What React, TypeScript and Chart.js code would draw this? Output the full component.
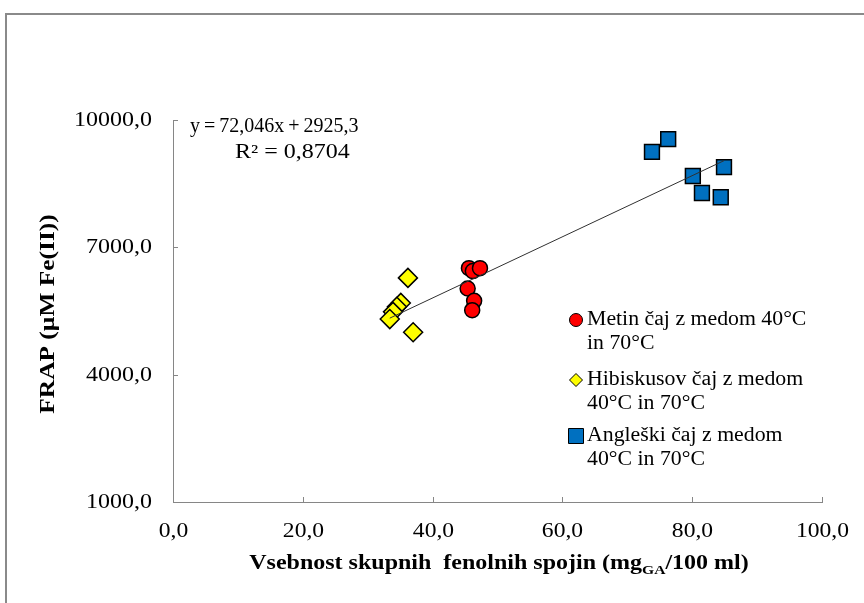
import React, { useEffect, useRef } from "react";
import { Chart, registerables } from "chart.js";

Chart.register(...registerables);

const metinX = [45.6, 46.2, 47.3, 45.4, 46.4, 46.1];
const metinY = [6510, 6440, 6510, 6030, 5740, 5520];
const hibisX = [36.2, 35.1, 34.5, 33.9, 33.4, 37.0];
const hibisY = [6280, 5690, 5600, 5480, 5310, 5000];
const angX = [73.8, 76.3, 80.1, 84.9, 81.5, 84.4];
const angY = [9250, 9550, 8680, 8890, 8280, 8180];

const slope = 72.046;
const intercept = 2925.3;
const equationText = "y = 72,046x + 2925,3";
const r2Text = "R² = 0,8704";

const xTicks = [0, 20, 40, 60, 80, 100];
const yTicks = [1000, 4000, 7000, 10000];

const legendLabels = [
  ["Metin čaj z medom 40°C", "in 70°C"],
  ["Hibiskusov čaj z medom", "40°C in 70°C"],
  ["Angleški čaj z medom", "40°C in 70°C"],
];

const xTitleMain = "Vsebnost skupnih  fenolnih spojin (mg";
const xTitleSub = "GA";
const xTitleEnd = "/100 ml)";
const yTitle = "FRAP (µM Fe(II))";

const fmt = (v: number) => v.toFixed(1).replace(".", ",");

const serif = "'Liberation Serif', 'Times New Roman', serif";

function drawText(ctx: any, text: string, x: number, y: number, font: string, sx: number, align: string, wordSpacing = "0px") {
  ctx.save();
  ctx.font = font;
  if ("wordSpacing" in ctx) ctx.wordSpacing = wordSpacing;
  ctx.textBaseline = "middle";
  ctx.textAlign = "left";
  const w = ctx.measureText(text).width * sx;
  let left = x;
  if (align === "center") left = x - w / 2;
  else if (align === "right") left = x - w;
  ctx.translate(left, y);
  ctx.scale(sx, 1);
  ctx.fillText(text, 0, 0);
  ctx.restore();
  return w;
}

function drawMarker(ctx: any, style: string, x: number, y: number, r: number, color: string) {
  ctx.beginPath();
  if (style === "circle") {
    ctx.arc(x, y, r, 0, Math.PI * 2);
  } else if (style === "rectRot") {
    ctx.moveTo(x - r, y);
    ctx.lineTo(x, y + r);
    ctx.lineTo(x + r, y);
    ctx.lineTo(x, y - r);
    ctx.closePath();
  } else {
    ctx.rect(x - r, y - r, 2 * r, 2 * r);
  }
  ctx.fillStyle = color;
  ctx.fill();
  ctx.strokeStyle = "#000";
  ctx.lineWidth = 1;
  ctx.stroke();
}

export default function App() {
  const ref = useRef<HTMLCanvasElement>(null);

  useEffect(() => {
    const canvas = ref.current!;
    const toPts = (xs: number[], ys: number[]) => xs.map((x, i) => ({ x, y: ys[i] }));
    const allX = [...metinX, ...hibisX, ...angX];
    const minX = Math.min(...allX);
    const maxX = Math.max(...allX);

    const overlay = {
      id: "overlay",
      afterDraw(chart: any) {
        const ctx = chart.ctx;
        const xs = chart.scales.x;
        const ys = chart.scales.y;
        const area = chart.chartArea;
        ctx.save();
        ctx.strokeStyle = "#868686";
        ctx.lineWidth = 1;
        ctx.fillStyle = "#000";
        const tickFont = `20px ${serif}`;
        xTicks.forEach((t) => {
          const px = Math.round(xs.getPixelForValue(t)) + 0.5;
          ctx.beginPath();
          ctx.moveTo(px, area.bottom);
          ctx.lineTo(px, area.bottom - 5);
          ctx.stroke();
          drawText(ctx, fmt(t), px, area.bottom + 30, tickFont, 1.18, "center");
        });
        yTicks.forEach((t) => {
          const py = Math.round(ys.getPixelForValue(t)) + 0.5;
          ctx.beginPath();
          ctx.moveTo(area.left, py);
          ctx.lineTo(area.left + 5, py);
          ctx.stroke();
          drawText(ctx, fmt(t), area.left - 21, py, tickFont, 1.2, "right");
        });

        // equation
        drawText(ctx, equationText, 190, 127, `20px ${serif}`, 1.0, "left", "-1px");
        drawText(ctx, r2Text, 235, 153, `20px ${serif}`, 1.2, "left");

        // legend
        const items = [
          { style: "circle", color: "#FF0000", r: 6.5 },
          { style: "rectRot", color: "#FFFF00", r: 6.5 },
          { style: "rect", color: "#0070C0", r: 7.5 },
        ];
        const rows = [320, 380, 436];
        items.forEach((it, i) => {
          drawMarker(ctx, it.style, 576, rows[i], it.r, it.color);
          ctx.fillStyle = "#000";
          drawText(ctx, legendLabels[i][0], 587, rows[i], `20px ${serif}`, 1.09, "left");
          drawText(ctx, legendLabels[i][1], 587, rows[i] + 24, `20px ${serif}`, 1.09, "left");
        });

        // x axis title with subscript
        const bf = `bold 20px ${serif}`;
        const sf = `bold 13px ${serif}`;
        const sx = 1.2;
        ctx.font = bf;
        const w1 = ctx.measureText(xTitleMain).width * sx;
        const w3 = ctx.measureText(xTitleEnd).width * sx;
        ctx.font = sf;
        const w2 = ctx.measureText(xTitleSub).width * sx;
        let left = 499 - (w1 + w2 + w3) / 2;
        const ty = 564;
        drawText(ctx, xTitleMain, left, ty, bf, sx, "left");
        left += w1;
        drawText(ctx, xTitleSub, left, ty + 7, sf, sx, "left");
        left += w2;
        drawText(ctx, xTitleEnd, left, ty, bf, sx, "left");

        // y axis title
        ctx.save();
        ctx.translate(49, 314);
        ctx.rotate(-Math.PI / 2);
        drawText(ctx, yTitle, 0, 0, bf, 1.27, "center");
        ctx.restore();

        ctx.restore();
      },
    };

    const chart = new Chart(canvas, {
      type: "scatter",
      data: {
        datasets: [
          {
            type: "line",
            label: "trend",
            data: [
              { x: minX, y: slope * minX + intercept },
              { x: maxX, y: slope * maxX + intercept },
            ],
            borderColor: "#303030",
            borderWidth: 1,
            pointRadius: 0,
            fill: false,
            order: 0,
          } as any,
          {
            label: legendLabels[1].join(" "),
            data: toPts(hibisX, hibisY),
            pointStyle: "rectRot",
            pointRadius: 9.5,
            backgroundColor: "#FFFF00",
            borderColor: "#000",
            borderWidth: 1.5,
            order: 2,
          },
          {
            label: legendLabels[0].join(" "),
            data: toPts(metinX, metinY),
            pointStyle: "circle",
            pointRadius: 7.5,
            backgroundColor: "#FF0000",
            borderColor: "#000",
            borderWidth: 1.5,
            order: 2,
          },
          {
            label: legendLabels[2].join(" "),
            data: toPts(angX, angY),
            pointStyle: "rect",
            pointRadius: 10.5,
            backgroundColor: "#0070C0",
            borderColor: "#000",
            borderWidth: 1.5,
            order: 2,
          },
        ],
      },
      options: {
        animation: false,
        responsive: false,
        devicePixelRatio: 1,
        layout: { padding: { left: 0, right: 42, top: 120, bottom: 0 } },
        plugins: {
          legend: { display: false },
          tooltip: { enabled: false },
        },
        scales: {
          x: {
            type: "linear",
            min: 0,
            max: 100,
            afterBuildTicks: (s: any) => {
              s.ticks = xTicks.map((v) => ({ value: v }));
            },
            afterFit: (s: any) => {
              s.height = 101;
            },
            grid: { display: false, drawTicks: false },
            border: { display: true, color: "#868686", width: 1 },
            ticks: { display: false },
          },
          y: {
            type: "linear",
            min: 1000,
            max: 10000,
            afterBuildTicks: (s: any) => {
              s.ticks = yTicks.map((v) => ({ value: v }));
            },
            afterFit: (s: any) => {
              s.width = 173;
            },
            grid: { display: false, drawTicks: false },
            border: { display: true, color: "#868686", width: 1 },
            ticks: { display: false },
          },
        },
      },
      plugins: [overlay],
    } as any);
    return () => chart.destroy();
  }, []);

  return (
    <div style={{ position: "fixed", left: 0, top: 0, width: 864, height: 603, overflow: "hidden", background: "#fff" }}>
      <div
        style={{
          position: "absolute",
          left: 5,
          top: 13,
          width: 1000,
          height: 1000,
          borderTop: "2px solid #8a8a8a",
          borderLeft: "2px solid #8a8a8a",
          boxSizing: "border-box",
        }}
      />
      <canvas ref={ref} width={864} height={603} style={{ position: "absolute", left: 0, top: 0, width: 864, height: 603 }} />
    </div>
  );
}
